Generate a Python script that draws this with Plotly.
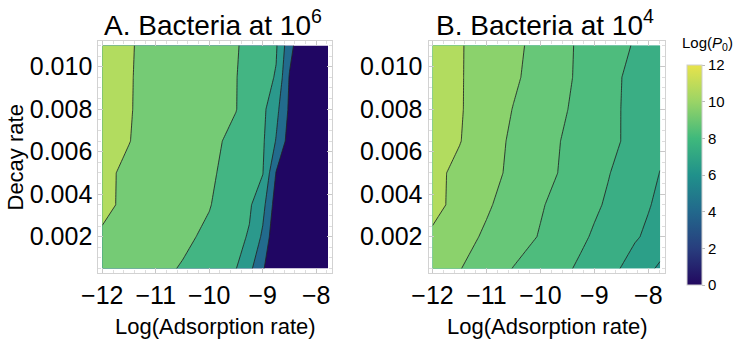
import plotly.graph_objects as go

# ---------------- data ----------------
x_vals = [-12.0, -11.5, -11.0, -10.5, -10.0, -9.5, -9.25, -9.0, -8.75, -8.5, -8.25, -8.0, -7.78]
y_vals = [0.0005, 0.002, 0.0035, 0.005, 0.0065, 0.008, 0.0095, 0.011]

# Panel A: Bacteria at 10^6  (rows follow y_vals, columns follow x_vals)
z_a = [
    [9.50, 8.98, 8.45, 7.87, 6.95, 6.04, 4.52, 2.20, 0.30, 0.05, 0.00, 0.00, 0.00],
    [9.85, 9.35, 8.85, 8.35, 7.66, 6.52, 5.83, 3.65, 0.30, 0.05, 0.00, 0.00, 0.00],
    [10.27, 9.73, 9.18, 8.63, 8.09, 6.91, 6.26, 4.64, 1.00, 0.20, 0.05, 0.00, 0.00],
    [10.26, 9.76, 9.26, 8.75, 8.25, 7.36, 6.72, 6.08, 1.90, 0.40, 0.10, 0.00, 0.00],
    [10.53, 10.03, 9.48, 8.93, 8.38, 7.60, 6.93, 6.27, 3.88, 1.12, 0.15, 0.05, 0.00],
    [10.57, 10.07, 9.56, 9.06, 8.55, 8.04, 7.29, 6.44, 4.59, 1.64, 0.20, 0.05, 0.00],
    [10.58, 10.08, 9.57, 9.07, 8.56, 8.05, 7.42, 6.70, 5.85, 1.84, 0.20, 0.05, 0.00],
    [10.60, 10.10, 9.60, 9.11, 8.61, 8.11, 7.62, 6.92, 6.22, 2.73, 0.30, 0.10, 0.00],
]

# Panel B: Bacteria at 10^4
z_b = [
    [9.54, 9.04, 8.50, 7.97, 7.53, 7.10, 6.84, 6.55, 6.26, 5.97, 5.59, 5.21, 4.82],
    [9.85, 9.35, 8.86, 8.40, 7.94, 7.42, 7.16, 6.89, 6.63, 6.37, 6.10, 5.84, 5.61],
    [10.28, 9.71, 9.12, 8.59, 8.08, 7.61, 7.37, 7.14, 6.89, 6.61, 6.33, 6.06, 5.81],
    [10.25, 9.77, 9.30, 8.81, 8.32, 7.82, 7.56, 7.31, 7.05, 6.78, 6.51, 6.24, 5.98],
    [10.53, 10.04, 9.42, 8.84, 8.35, 7.88, 7.65, 7.43, 7.21, 6.99, 6.73, 6.46, 6.22],
    [10.57, 10.08, 9.52, 8.97, 8.49, 8.01, 7.76, 7.50, 7.25, 6.99, 6.74, 6.49, 6.27],
    [10.54, 10.07, 9.61, 9.14, 8.63, 8.10, 7.84, 7.56, 7.29, 7.01, 6.76, 6.51, 6.29],
    [10.50, 10.07, 9.64, 9.21, 8.70, 8.12, 7.86, 7.63, 7.40, 7.17, 6.93, 6.70, 6.50],
]

levels_a = (2, 10, 2)
levels_b = (5, 10, 1)
band_colors_a = ["#200663", "#226B8D", "#2B998C", "#43B583", "#75CB75", "#B2DC5F"]
band_colors_b = ["#25918B", "#2C9F88", "#3AAE84", "#4EBC7D", "#67C778", "#8BD26C", "#B2DC5F"]

cbar_colors = ["#22085F", "#283E7E", "#22688C", "#20918B", "#3FB97C", "#9AD466", "#E8E34B"]
cbar_ticks = [0, 2, 4, 6, 8, 10, 12]

x_ticks = [-12, -11, -10, -9, -8]
y_ticks = [0.002, 0.004, 0.006, 0.008, 0.010]

titles = ["A. Bacteria at 10<sup>6</sup>", "B. Bacteria at 10<sup>4</sup>"]
x_title = "Log(Adsorption rate)"
y_title = "Decay rate"
cbar_title = "Log(<i>P</i><sub>0</sub>)"

# ---------------- figure ----------------
W, H = 735, 343
FONT = "Liberation Sans, Arial, sans-serif"


def discrete_scale(cols):
    n = len(cols) - 1
    return [[i / n, c] for i, c in enumerate(cols)]


fig = go.Figure()
for z, lev, cols, xa, ya in [(z_a, levels_a, band_colors_a, "x", "y"),
                            (z_b, levels_b, band_colors_b, "x2", "y2")]:
    fig.add_trace(go.Contour(
        x=x_vals, y=y_vals, z=z, xaxis=xa, yaxis=ya,
        autocontour=False,
        contours=dict(start=lev[0], end=lev[1], size=lev[2],
                      coloring="fill", showlines=True),
        colorscale=discrete_scale(cols),
        showscale=False,
        line=dict(color="rgba(35,35,35,0.85)", width=1, smoothing=0),
        hoverinfo="skip",
    ))

# continuous colour bar
fig.add_trace(go.Scatter(
    x=[None], y=[None], mode="markers", xaxis="x2", yaxis="y2",
    showlegend=False, hoverinfo="skip",
    marker=dict(color=[0], cmin=0, cmax=12, colorscale=discrete_scale(cbar_colors),
                showscale=True,
                colorbar=dict(x=687 / W, xanchor="left", xpad=0, ypad=0,
                              y=(H - 175) / H, yanchor="middle",
                              len=220 / H, lenmode="fraction",
                              thickness=15, thicknessmode="pixels",
                              outlinewidth=1, outlinecolor="#cfcfcf",
                              tickvals=cbar_ticks, ticks="outside", ticklen=3,
                              tickcolor="#bbbbbb",
                              tickfont=dict(family=FONT, size=15, color="black"))),
))

x_dom_a = [98.3 / W, 332.3 / W]
x_dom_b = [428.5 / W, 664.5 / W]
y_dom = [(H - 273.3) / H, (H - 40.7) / H]
x_rng = [-12.075, -7.70]
y_rng = [0.00028, 0.01122]

axis_common = dict(showgrid=False, zeroline=False, showline=True, linecolor="#d2d2d2",
                   linewidth=1, mirror="ticks", ticks="inside", ticklen=5,
                   tickcolor="#c8c8c8", automargin=False,
                   tickfont=dict(family=FONT, size=25, color="black"))

xa = dict(axis_common, range=x_rng, tickvals=x_ticks,
          minor=dict(ticks="inside", ticklen=3, tick0=-12, dtick=0.2, tickcolor="#dddddd"))
ya = dict(axis_common, range=y_rng, tickvals=y_ticks, tickformat=".3f",
          minor=dict(ticks="inside", ticklen=3, tick0=0, dtick=0.0005, tickcolor="#dddddd"))

fig.update_layout(
    width=W, height=H, margin=dict(l=0, r=0, t=0, b=0, autoexpand=False),
    paper_bgcolor="white", plot_bgcolor="white", showlegend=False,
    xaxis=dict(xa, domain=x_dom_a, anchor="y"),
    yaxis=dict(ya, domain=y_dom, anchor="x"),
    xaxis2=dict(xa, domain=x_dom_b, anchor="y2"),
    yaxis2=dict(ya, domain=y_dom, anchor="x2"),
)

ann = []
for t, xc in zip(titles, [213, 545]):
    ann.append(dict(text=t, x=xc / W, y=(H - 23) / H, xref="paper", yref="paper",
                    xanchor="center", yanchor="middle", showarrow=False,
                    font=dict(family=FONT, size=28, color="black")))
for xc in [215, 547]:
    ann.append(dict(text=x_title, x=xc / W, y=(H - 326) / H, xref="paper", yref="paper",
                    xanchor="center", yanchor="middle", showarrow=False,
                    font=dict(family=FONT, size=22, color="black")))
ann.append(dict(text=y_title, x=15 / W, y=(H - 157.5) / H, xref="paper", yref="paper",
                xanchor="center", yanchor="middle", showarrow=False, textangle=-90,
                font=dict(family=FONT, size=22, color="black")))
ann.append(dict(text=cbar_title, x=707 / W, y=(H - 43) / H, xref="paper", yref="paper",
                xanchor="center", yanchor="middle", showarrow=False,
                font=dict(family=FONT, size=15, color="black")))
fig.update_layout(annotations=ann)

fig.write_html("out.html")
